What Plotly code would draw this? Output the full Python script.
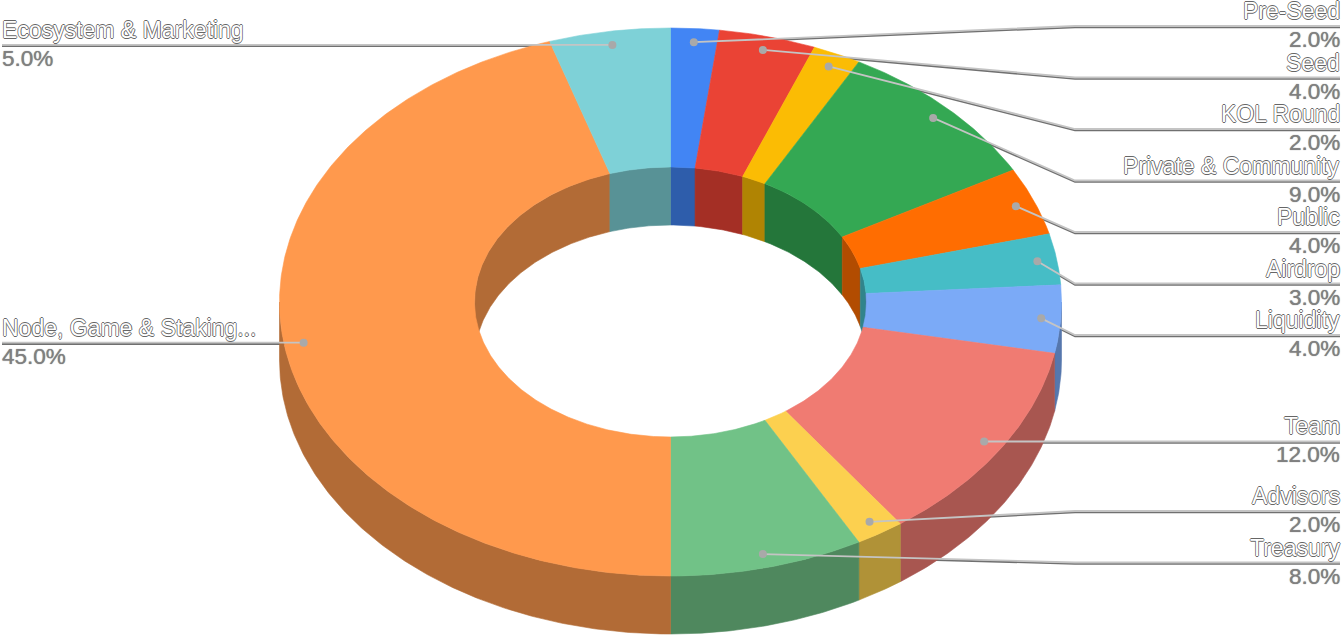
import numpy as np
import plotly.graph_objects as go

# ---- data ----
categories = ["Pre-Seed", "Seed", "KOL Round", "Private & Community", "Public", "Airdrop",
              "Liquidity", "Team", "Advisors", "Treasury", "Node, Game & Staking...",
              "Ecosystem & Marketing"]
shares = [2.0, 4.0, 2.0, 9.0, 4.0, 3.0, 4.0, 12.0, 2.0, 8.0, 45.0, 5.0]
colors = ["#4285F4", "#EA4335", "#FBBC04", "#34A853", "#FF6D01", "#46BDC6",
          "#7BAAF7", "#F07B72", "#FCD04F", "#71C287", "#FF994D", "#7ED1D7"]

# ---- layout constants (pixels of the 1342x637 canvas) ----
CX, CY = 670.5, 302.0
RX, RY = 391.0, 274.0
IRX, IRY = 196.0, 135.0
DEPTH = 58.0
LABEL_K = 0.95
ELBOW_X, RIGHT_X, LEFT_X = 1075.0, 1340.0, 2.0
# horizontal rule of each label; None = level with its dot
label_rows = [26, 77.5, 129, 180.5, 232, 283.5, 335, None, 511, 562.5, None, None]
left_side = [False] * 10 + [True, True]


def darken(c, f=0.7):
    r, g, b = [int(c[i:i + 2], 16) for i in (1, 3, 5)]
    return f"rgb({r * f:.0f},{g * f:.0f},{b * f:.0f})"


def arc(a0, a1, rx, ry, dy=0.0):
    n = max(2, int(abs(a1 - a0)) * 2 + 2)
    t = np.radians(np.linspace(a0, a1, n))
    return CX + rx * np.sin(t), CY - ry * np.cos(t) + dy


def band(a0, a1, p, q):
    x1, y1 = arc(a0, a1, *p)
    x2, y2 = arc(a1, a0, *q)
    return np.r_[x1, x2, x1[0]], np.r_[y1, y2, y1[0]]


def poly(x, y, color, name):
    return go.Scatter(x=x, y=y, mode="lines", fill="toself", fillcolor=color,
                      line=dict(color=color, width=0.6), name=name,
                      hoverinfo="name", showlegend=False)


total = sum(shares)
edges = np.r_[0, np.cumsum(shares)] / total * 360.0

dots_x, dots_y, rules = [], [], []
for i in range(len(shares)):
    mid = np.radians((edges[i] + edges[i + 1]) / 2)
    dx = CX + RX * LABEL_K * np.sin(mid)
    dy = CY - RY * LABEL_K * np.cos(mid)
    dots_x.append(dx)
    dots_y.append(dy)
    row = label_rows[i] if label_rows[i] is not None else dy
    if left_side[i]:
        rules.append(([dx, LEFT_X], [dy, row], row))
    elif label_rows[i] is None:
        rules.append(([dx, RIGHT_X], [dy, row], row))
    else:
        rules.append(([dx, ELBOW_X, RIGHT_X], [dy, row, row], row))

fig = go.Figure()

# darker under-stroke of the leaders, hidden where the ring covers it
for rx_, ry_, _ in rules:
    fig.add_trace(go.Scatter(x=rx_, y=[v + 1.3 for v in ry_], mode="lines",
                             line=dict(color="#707070", width=1.8),
                             hoverinfo="skip", showlegend=False))

# outer wall (front half)
for i, name in enumerate(categories):
    a0, a1 = max(edges[i], 90), min(edges[i + 1], 270)
    if a1 > a0:
        fig.add_trace(poly(*band(a0, a1, (RX, RY, 0), (RX, RY, DEPTH)), darken(colors[i]), name))

# inner wall (back half)
for i, name in enumerate(categories):
    for lo, hi in ((0, 90), (270, 360)):
        a0, a1 = max(edges[i], lo), min(edges[i + 1], hi)
        if a1 > a0:
            fig.add_trace(poly(*band(a0, a1, (IRX, IRY, 0), (IRX, IRY, DEPTH)), darken(colors[i]), name))

# top face
for i, name in enumerate(categories):
    fig.add_trace(poly(*band(edges[i], edges[i + 1], (RX, RY, 0), (IRX, IRY, 0)), colors[i], name))

# light leaders and dots on top
for rx_, ry_, _ in rules:
    fig.add_trace(go.Scatter(x=rx_, y=ry_, mode="lines", line=dict(color="#c4c4c4", width=1.8),
                             hoverinfo="skip", showlegend=False))
fig.add_trace(go.Scatter(x=dots_x, y=dots_y, mode="markers", marker=dict(color="#a9a9a9", size=8),
                         hoverinfo="skip", showlegend=False))

FONT = "Liberation Sans, Arial, sans-serif"
OUTLINE = "0.8px 0 0 #666, -0.8px 0 0 #666, 0 0.8px 0 #666, 0 -0.8px 0 #666"
annotations = []
for i, (name, v) in enumerate(zip(categories, shares)):
    row = rules[i][2]
    x = LEFT_X if left_side[i] else RIGHT_X
    anchor = "left" if left_side[i] else "right"
    shift = -2 if left_side[i] else 2
    annotations.append(dict(x=x, y=row - 15, text=name, showarrow=False, xanchor=anchor, yanchor="middle",
                            xshift=shift, font=dict(family=FONT, size=23, color="#ffffff", shadow=OUTLINE)))
    annotations.append(dict(x=x, y=row + 13.5, text=f"{v:.1f}%", showarrow=False, xanchor=anchor, yanchor="middle",
                            xshift=shift, font=dict(family=FONT, size=22.5, color="#808080", shadow="0 0 1px #777")))

fig.update_layout(width=1342, height=637, margin=dict(l=0, r=0, t=0, b=0),
                  paper_bgcolor="white", plot_bgcolor="white", showlegend=False,
                  xaxis=dict(range=[0, 1342], visible=False, fixedrange=True),
                  yaxis=dict(range=[637, 0], visible=False, fixedrange=True),
                  annotations=annotations)
fig.write_html("out.html", config={"displayModeBar": False},
               post_script="document.body.style.margin='0';document.body.style.overflow='hidden';")
